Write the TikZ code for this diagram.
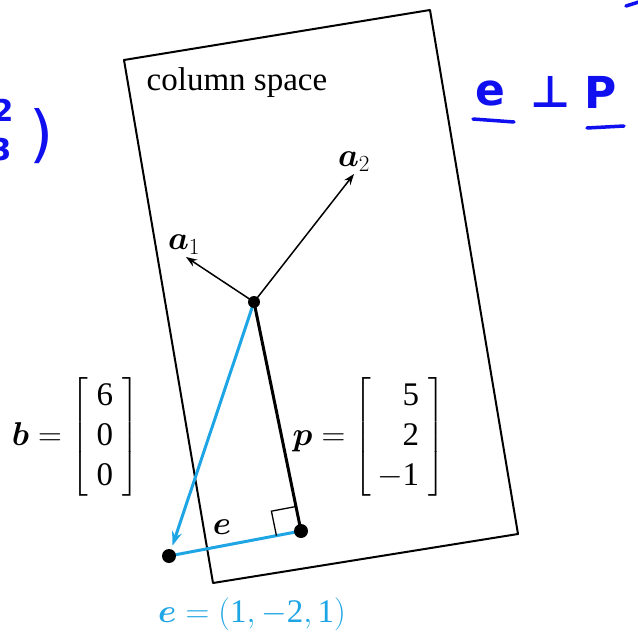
\RequirePackage{fix-cm}
\documentclass[tikz,border=0pt]{standalone}
\usepackage{amsmath}
\usepackage{fontspec}
\setmainfont{Liberation Serif}
\newfontfamily\handfont{DejaVu Sans Bold}
\newfontfamily\handthin{DejaVu Sans}
\usetikzlibrary{calc,arrows.meta}
\definecolor{ecyan}{RGB}{30,165,228}
\definecolor{handblue}{RGB}{15,15,240}
\tikzset{
  lbl/.style={font=\fontsize{33}{40}\selectfont, inner sep=0pt},
  vec/.style={line width=1.5pt, -{Stealth[length=11pt,width=8pt]}},
  dot/.style={circle, fill=black, inner sep=0pt, minimum size=#1},
  hand/.style={handblue, font=\handfont\fontsize{44}{50}\selectfont, inner sep=0pt},
  handline/.style={handblue, line width=3.5pt, line cap=round}
}
\newcommand{\tx}[1]{\text{#1}}
\begin{document}
\begin{tikzpicture}[x=1pt,y=-1pt]
\useasboundingbox (0,0) rectangle (638,634);
% column space plane
\coordinate (c1) at (124,60);
\coordinate (c2) at (430,10);
\coordinate (c3) at (518,534);
\coordinate (c4) at (213,583);
\draw[line width=2pt, line join=round] (c1) -- (c2) -- (c3) -- (c4) -- cycle;
\node[lbl] (cs) at (237,83) {column space};
% points
\coordinate (O) at (254,302);
\coordinate (B) at (169,556);
\coordinate (P) at (301,531);
\coordinate (A1) at (186,257);
\coordinate (A2) at (354,174);
% vectors a1, a2
\draw[vec] (O) -- (A1);
\draw[vec] (O) -- (A2);
\node[lbl] (a1l) at (184,245) {$\boldsymbol{a}_1$};
\node[lbl] (a2l) at (354,162) {$\boldsymbol{a}_2$};
% p and b
\draw[line width=3pt] (O) -- (P);
\draw[ecyan, line width=3pt] (P) -- (B);
\draw[ecyan, line width=3pt, -{Stealth[length=14pt,width=10pt]}, shorten >=11pt] (O) -- (B);
% right angle
\coordinate (R1) at ($(P)!25pt!(B)$);
\coordinate (R3) at ($(P)!25pt!(O)$);
\coordinate (R2) at ($(R1)+(R3)-(P)$);
\draw[line width=1.3pt] (R1) -- (R2) -- (R3);
\node[dot=12pt] (Od) at (O) {};
\node[dot=14pt] (Bd) at (B) {};
\node[dot=14pt] (Pd) at (P) {};
\node[lbl] (el) at (222,527) {$\boldsymbol{e}$};
% matrices
\node[lbl, anchor=east] (bm) at (139,437) {$\boldsymbol{b}=\left[\begin{array}{@{\hspace{9pt}}c@{\hspace{9pt}}}\tx{6}\\\tx{0}\\\tx{0}\end{array}\right]$};
\node[lbl, anchor=east] (pm) at (445,437) {$\boldsymbol{p}=\left[\begin{array}{@{\hspace{6pt}}r@{\hspace{9pt}}}\tx{5}\\\tx{2}\\-\tx{1}\end{array}\right]$};
% e label
\node[lbl, text=ecyan] (ev) at (252,614) {$\boldsymbol{e}=(\tx{1},-\tx{2},\tx{1})$};
% handwriting
\node[hand] (h1) at (490,93) {e};
\node[hand] (h2) at (551,92) {⊥};
\node[hand] (h3) at (601,92) {P};
\draw[handline] (473,119) -- (514,122);
\draw[handline] (587,128) -- (624,126);
\node[hand, font=\handthin\fontsize{62}{66}\selectfont] (h4) at (42,136) {)};
\node[hand, font=\handfont\fontsize{30}{34}\selectfont] (h5) at (3,110) {2};
\node[hand, font=\handfont\fontsize{30}{34}\selectfont] (h6) at (1,150) {3};
\draw[handline] (626,6) -- (642,1);
\end{tikzpicture}
\end{document}
